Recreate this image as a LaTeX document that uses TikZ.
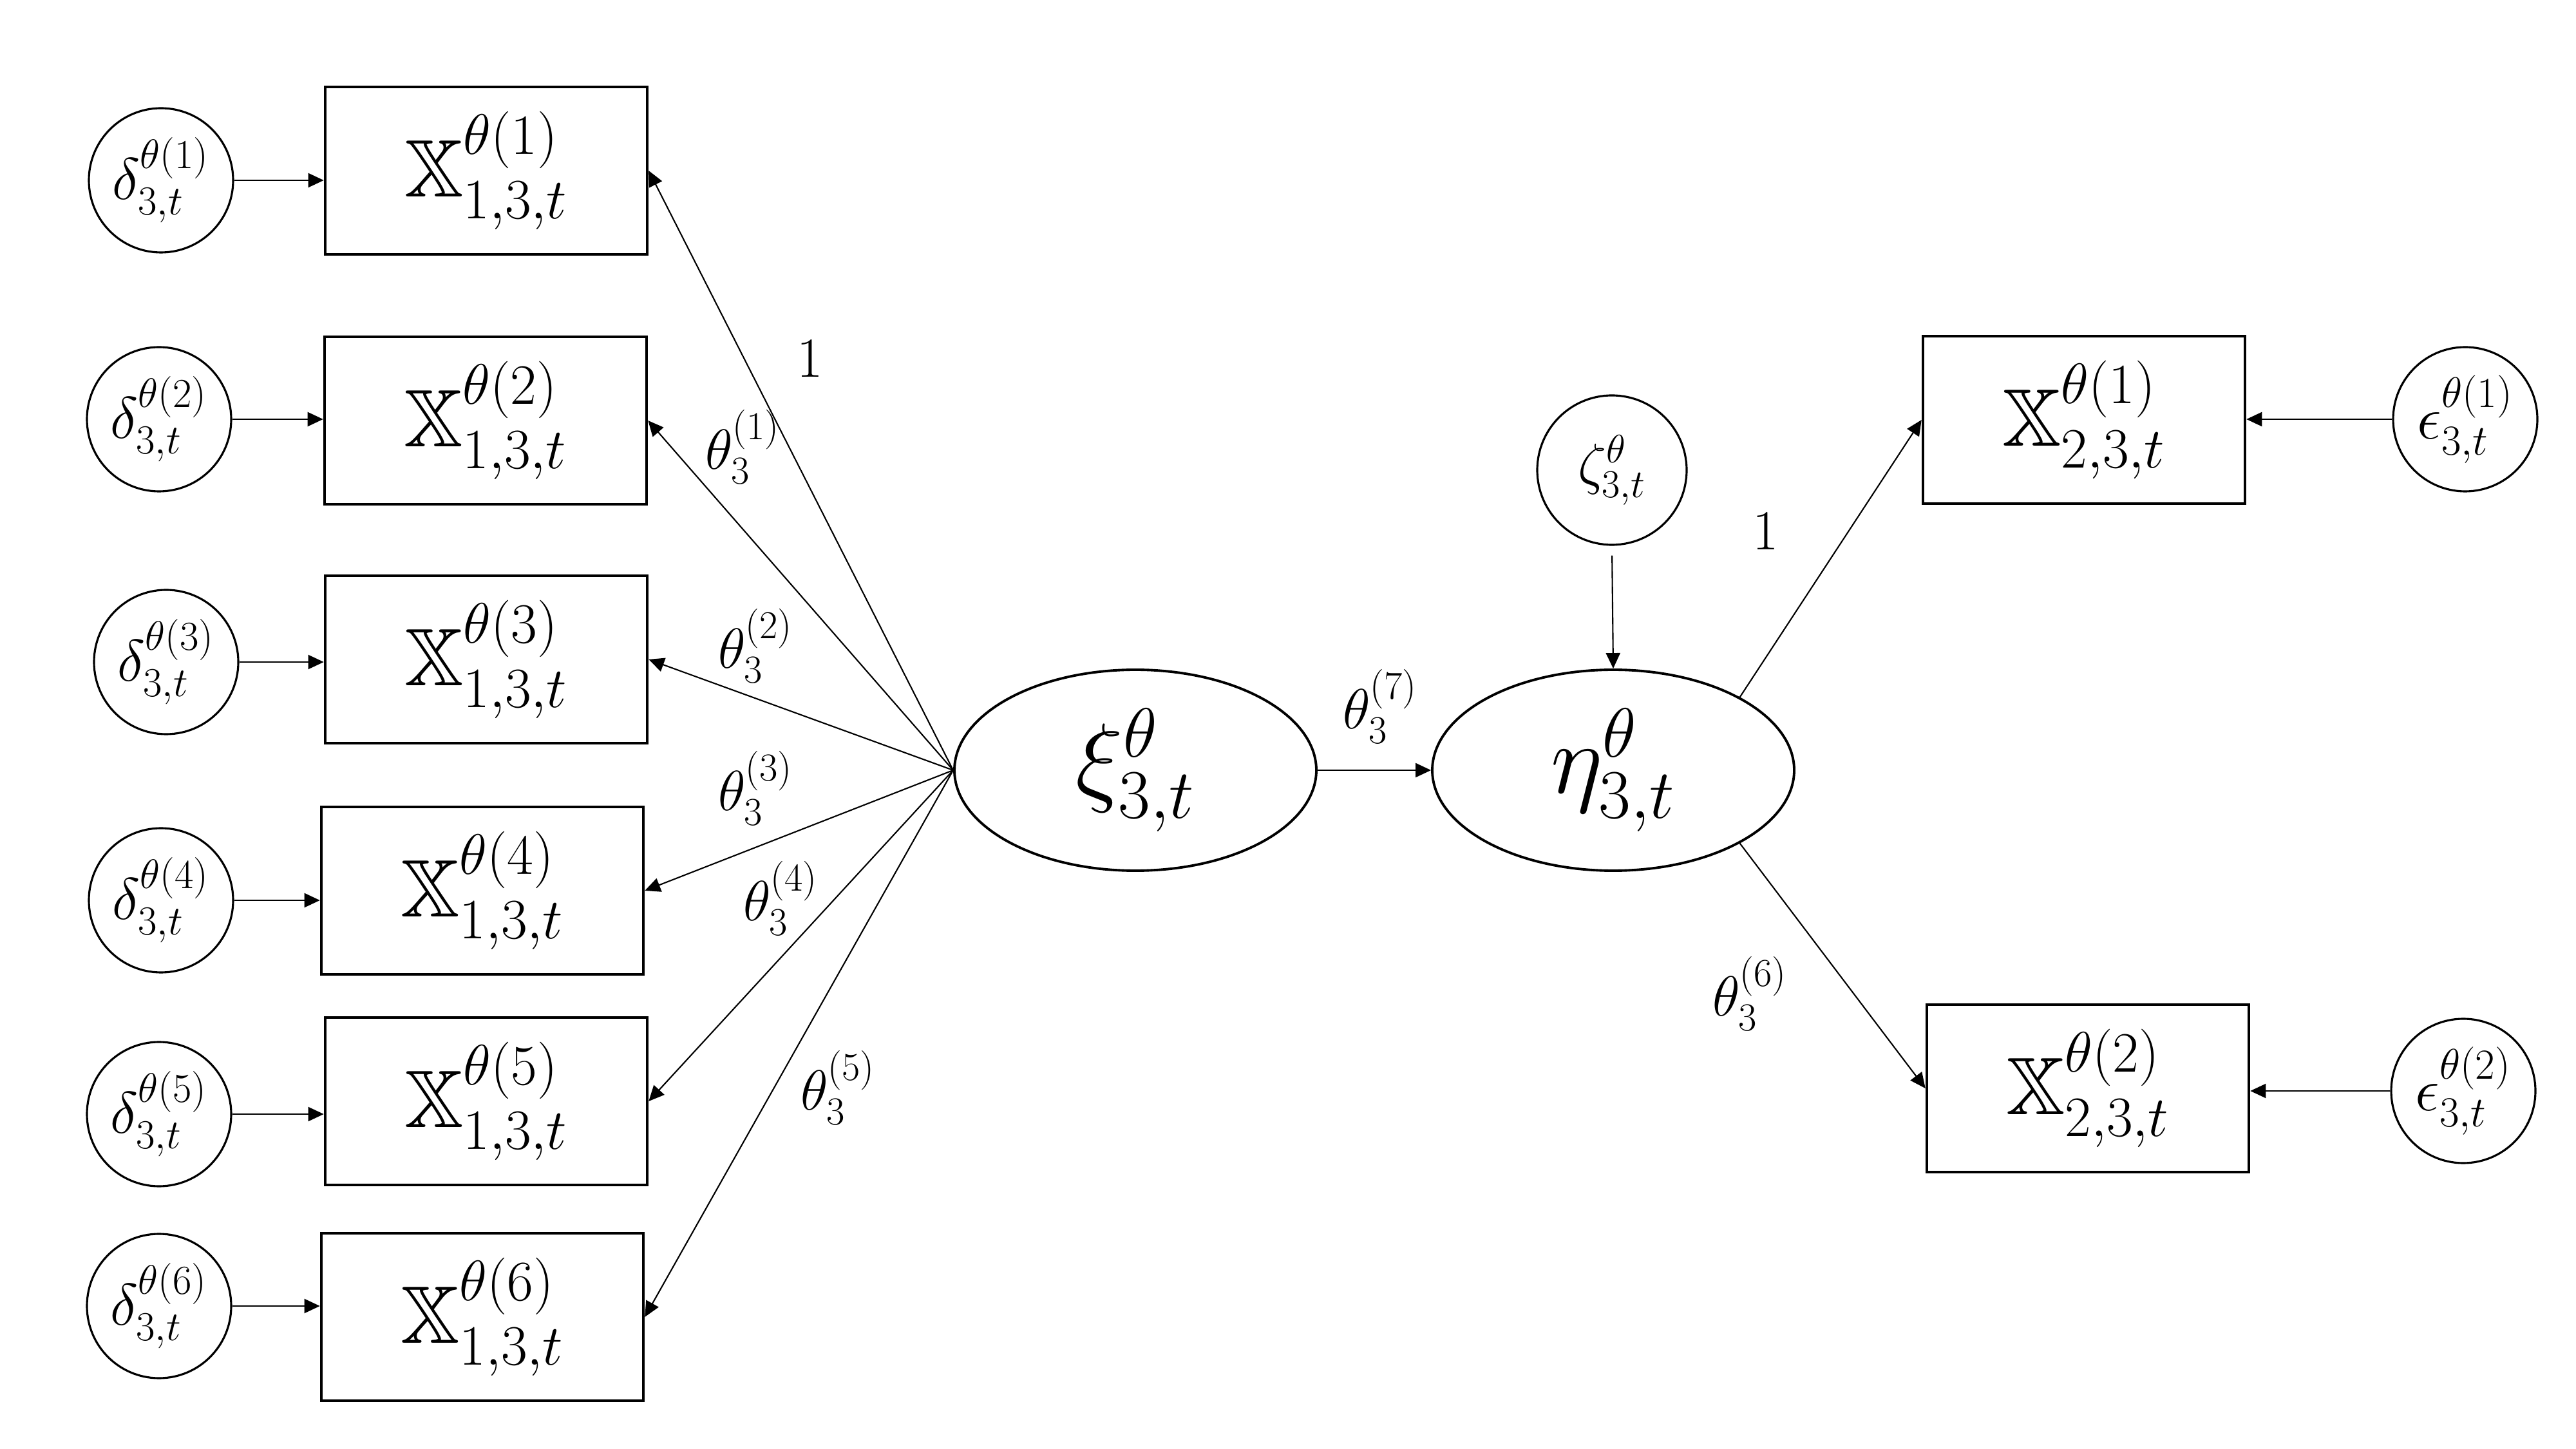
\RequirePackage{fix-cm}
\documentclass[tikz,border=0pt]{standalone}
\usepackage{amsmath,amssymb}
\DeclareFontFamily{U}{msb}{}
\DeclareFontShape{U}{msb}{m}{n}{<-6>msbm5<6-8>msbm7<8->msbm10}{}
\usetikzlibrary{arrows.meta,shapes.geometric}
\tikzset{
  obsbox/.style={draw, line width=1.3pt, minimum width=5cm, minimum height=2.6cm, inner sep=0pt, font=\fontsize{36}{43}\selectfont},
  errcirc/.style={draw, circle, line width=0.9pt, minimum size=2.24cm, inner sep=0pt, font=\fontsize{26}{31}\selectfont},
  latent/.style={draw, ellipse, line width=1.1pt, minimum width=5.62cm, minimum height=3.12cm, inner sep=0pt, font=\fontsize{44}{52}\selectfont},
  conn/.style={line width=0.6pt, -{Triangle[length=0.24cm,width=0.22cm]}},
  lbl/.style={inner sep=0pt, font=\fontsize{25}{30}\selectfont},
  onelbl/.style={inner sep=0pt, font=\fontsize{25}{30}\selectfont}
}
\begin{document}
\begin{tikzpicture}
\useasboundingbox (0,0) rectangle (40,-22.5);
% error circles left
\node[errcirc] (d1) at (2.50,-2.80) {$\delta^{\theta(1)}_{3,t}$};
\node[errcirc] (d2) at (2.47,-6.51) {$\delta^{\theta(2)}_{3,t}$};
\node[errcirc] (d3) at (2.58,-10.28) {$\delta^{\theta(3)}_{3,t}$};
\node[errcirc] (d4) at (2.50,-13.98) {$\delta^{\theta(4)}_{3,t}$};
\node[errcirc] (d5) at (2.47,-17.30) {$\delta^{\theta(5)}_{3,t}$};
\node[errcirc] (d6) at (2.47,-20.28) {$\delta^{\theta(6)}_{3,t}$};
% left boxes
\node[obsbox] (b1) at (7.55,-2.65) {$\mathbb{X}^{\theta(1)}_{1,3,t}$};
\node[obsbox] (b2) at (7.54,-6.53) {$\mathbb{X}^{\theta(2)}_{1,3,t}$};
\node[obsbox] (b3) at (7.55,-10.24) {$\mathbb{X}^{\theta(3)}_{1,3,t}$};
\node[obsbox] (b4) at (7.49,-13.83) {$\mathbb{X}^{\theta(4)}_{1,3,t}$};
\node[obsbox] (b5) at (7.55,-17.10) {$\mathbb{X}^{\theta(5)}_{1,3,t}$};
\node[obsbox] (b6) at (7.49,-20.45) {$\mathbb{X}^{\theta(6)}_{1,3,t}$};
% latent
\node[latent] (xi) at (17.63,-11.96) {$\xi^{\theta}_{3,t}$};
\node[latent] (eta) at (25.05,-11.96) {$\eta^{\theta}_{3,t}$};
\node[errcirc, minimum size=2.32cm, font=\fontsize{25}{30}\selectfont] (zeta) at (25.03,-7.30) {$\zeta^{\theta}_{3,t}$};
% right boxes
\node[obsbox] (r1) at (32.36,-6.52) {$\mathbb{X}^{\theta(1)}_{2,3,t}$};
\node[obsbox] (r2) at (32.42,-16.90) {$\mathbb{X}^{\theta(2)}_{2,3,t}$};
\node[errcirc, font=\fontsize{27}{32}\selectfont] (e1) at (38.28,-6.51) {$\epsilon^{\theta(1)}_{3,t}$};
\node[errcirc, font=\fontsize{27}{32}\selectfont] (e2) at (38.25,-16.94) {$\epsilon^{\theta(2)}_{3,t}$};
% error arrows
\foreach \i in {1,...,6} {\draw[conn] (d\i) -- (d\i -| b\i.west);}
\draw[conn] (e1) -- (e1 -| r1.east);
\draw[conn] (e2) -- (e2 -| r2.east);
% fan
\foreach \i in {1,...,6} {\draw[conn] (xi.west) -- (b\i.east);}
\draw[conn] (xi.east) -- (eta.west);
\draw[conn, shorten <=0.15cm] (zeta.south) -- (eta.north);
\draw[conn] (eta.30) -- (r1.west);
\draw[conn] (eta.-30) -- (r2.west);
% labels
\node[onelbl] (l1) at (12.58,-5.56) {1};
\node[lbl] (t1) at (11.53,-6.94) {$\theta^{(1)}_3$};
\node[lbl] (t2) at (11.73,-10.03) {$\theta^{(2)}_3$};
\node[lbl] (t3) at (11.73,-12.24) {$\theta^{(3)}_3$};
\node[lbl] (t4) at (12.12,-13.95) {$\theta^{(4)}_3$};
\node[lbl] (t5) at (13.01,-16.89) {$\theta^{(5)}_3$};
\node[lbl] (t7) at (21.43,-10.97) {$\theta^{(7)}_3$};
\node[onelbl] (l2) at (27.42,-8.24) {1};
\node[lbl] (t6) at (27.17,-15.43) {$\theta^{(6)}_3$};
\end{tikzpicture}
\end{document}
